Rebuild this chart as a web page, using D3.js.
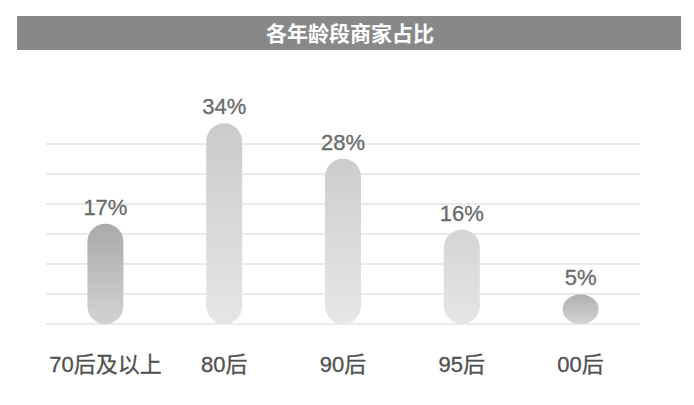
<!DOCTYPE html>
<html lang="zh">
<head>
<meta charset="UTF-8">
<title>各年龄段商家占比</title>
<style>
  body, html { margin: 0; padding: 0; background: #ffffff; }
  svg { display: block; font-family: "Liberation Sans", "Noto Sans CJK SC", sans-serif; }
</style>
</head>
<body>
<div id="chart"></div>
<script src="https://d3js.org/d3.v7.min.js"></script>
<script>
// data
const title = "各年龄段商家占比";
const categories = ["70后及以上", "80后", "90后", "95后", "00后"];
const values = [17, 34, 28, 16, 5];
// gradient colours per bar: [top, bottom]
const barColors = [
  ["#aaaaaa", "#d2d2d2"],
  ["#cbcbcb", "#e6e6e6"],
  ["#cdcdcd", "#e7e7e7"],
  ["#d4d4d4", "#e6e6e6"],
  ["#afafaf", "#d3d3d3"]
];
const gridCount = 6;
const yMax = 30.5;

const W = 694, H = 405;
const svg = d3.select("#chart").append("svg").attr("width", W).attr("height", H);

// title bar
svg.append("rect").attr("x", 17).attr("y", 16).attr("width", 664).attr("height", 34).attr("fill", "#888888");
svg.append("text").attr("x", 350).attr("y", 33).attr("dy", "0.36em")
  .attr("text-anchor", "middle").attr("fill", "#ffffff")
  .attr("font-size", 21).attr("font-weight", "bold")
  .attr("font-family", "'Noto Sans CJK SC', sans-serif")
  .text(title);

const x = d3.scaleBand().domain(categories).range([46, 640]);
const y = d3.scaleLinear().domain([0, yMax]).range([324, 144]);

// gridlines
svg.append("g").selectAll("line")
  .data(d3.range(gridCount + 1).map(i => i * yMax / gridCount))
  .enter().append("line")
  .attr("x1", 46).attr("x2", 640)
  .attr("y1", d => y(d)).attr("y2", d => y(d))
  .attr("stroke", "#e3e3e3").attr("stroke-width", 1.5);

const defs = svg.append("defs");
categories.forEach((c, i) => {
  const g = defs.append("linearGradient").attr("id", "grad" + i)
    .attr("x1", 0).attr("y1", 0).attr("x2", 0).attr("y2", 1);
  g.append("stop").attr("offset", "0%").attr("stop-color", barColors[i][0]);
  g.append("stop").attr("offset", "100%").attr("stop-color", barColors[i][1]);
});

const barW = 36;
const data = categories.map((c, i) => ({ cat: c, v: values[i], i: i }));

svg.append("g").selectAll("rect")
  .data(data)
  .enter().append("rect")
  .attr("x", d => x(d.cat) + x.bandwidth() / 2 - barW / 2)
  .attr("y", d => y(d.v))
  .attr("width", barW)
  .attr("height", d => y(0) - y(d.v))
  .attr("rx", barW / 2)
  .attr("fill", d => `url(#grad${d.i})`);

// value labels
svg.append("g").selectAll("text")
  .data(data)
  .enter().append("text")
  .attr("x", d => x(d.cat) + x.bandwidth() / 2)
  .attr("y", d => y(d.v) - 9)
  .attr("text-anchor", "middle")
  .attr("fill", "#6a6a6a")
  .attr("font-size", 22)
  .attr("stroke", "#6a6a6a").attr("stroke-width", 0.3)
  .text(d => d.v + "%");

// category labels
svg.append("g").selectAll("text")
  .data(categories)
  .enter().append("text")
  .attr("x", d => x(d) + x.bandwidth() / 2)
  .attr("y", 372)
  .attr("text-anchor", "middle")
  .attr("fill", "#505050")
  .attr("font-size", 22)
  .attr("stroke", "#505050").attr("stroke-width", 0.3)
  .text(d => d);
</script>
</body>
</html>
